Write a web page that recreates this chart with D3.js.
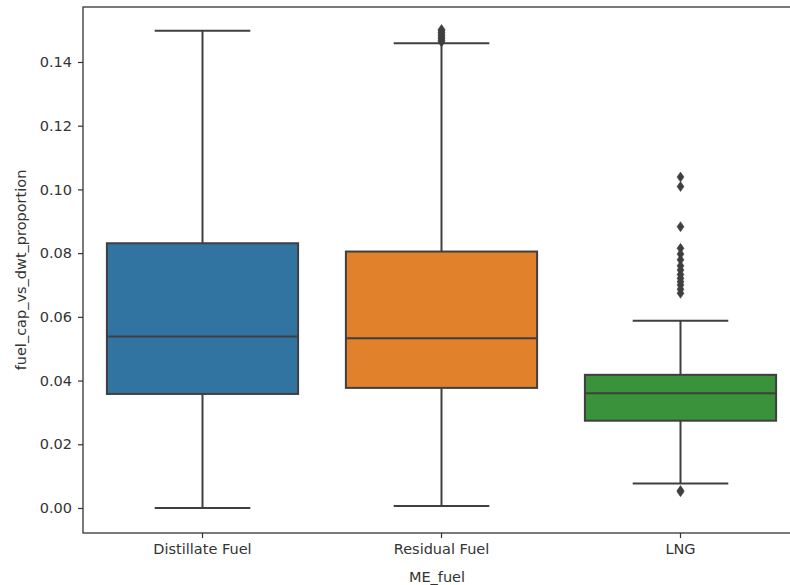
<!DOCTYPE html>
<html>
<head>
<meta charset="utf-8">
<script src="https://cdn.jsdelivr.net/npm/d3@7"></script>
<style>
  html, body { margin: 0; padding: 0; background: #fff; }
  svg { display: block; }
</style>
</head>
<body>
<svg id="chart" width="790" height="585"></svg>
<script>
// ---- data ----
const categories = ["Distillate Fuel", "Residual Fuel", "LNG"];
const colors = ["#3274a1", "#e1812c", "#3a923a"];
const whiskerLow = [0.0000, 0.0006, 0.0077];
const q1 = [0.0358, 0.0377, 0.0274];
const median = [0.0538, 0.0533, 0.0360];
const q3 = [0.0831, 0.0805, 0.0418];
const whiskerHigh = [0.1498, 0.1459, 0.0588];
const outliers = [
  [],
  [0.1463, 0.1468, 0.1473, 0.1478, 0.1483, 0.1488, 0.1493, 0.1498, 0.1502],
  [0.1039, 0.1009, 0.0883, 0.0815, 0.0797, 0.0779, 0.0760, 0.0747, 0.0733, 0.0721, 0.0710, 0.0700, 0.0687, 0.0674, 0.0051, 0.0055]
];
const yTicks = [0.00, 0.02, 0.04, 0.06, 0.08, 0.10, 0.12, 0.14];
const xLabel = "ME_fuel";
const yLabel = "fuel_cap_vs_dwt_proportion";

// ---- layout ----
const mLeft = 83, mRight = 800, mTop = 7, mBottom = 533;
const svg = d3.select("#chart");
const font = "DejaVu Sans, sans-serif";
const lineColor = "#3f3f3f";

const x = d3.scaleBand().domain(categories).range([mLeft, mRight]).paddingInner(0).paddingOuter(0);
const y = d3.scaleLinear().domain([-0.00785, 0.15726]).range([mBottom, mTop]);

const bw = x.bandwidth() * 0.8;
const capW = bw * 0.5;

const g = svg.append("g");

categories.forEach((c, i) => {
  const cx = x(c) + x.bandwidth() / 2;
  g.append("line").attr("x1", cx).attr("x2", cx).attr("y1", y(q3[i])).attr("y2", y(whiskerHigh[i]))
    .attr("stroke", lineColor).attr("stroke-width", 2);
  g.append("line").attr("x1", cx).attr("x2", cx).attr("y1", y(q1[i])).attr("y2", y(whiskerLow[i]))
    .attr("stroke", lineColor).attr("stroke-width", 2);
  g.append("line").attr("x1", cx - capW / 2).attr("x2", cx + capW / 2).attr("y1", y(whiskerHigh[i])).attr("y2", y(whiskerHigh[i]))
    .attr("stroke", lineColor).attr("stroke-width", 2);
  g.append("line").attr("x1", cx - capW / 2).attr("x2", cx + capW / 2).attr("y1", y(whiskerLow[i])).attr("y2", y(whiskerLow[i]))
    .attr("stroke", lineColor).attr("stroke-width", 2);
  g.append("rect").attr("x", cx - bw / 2).attr("width", bw)
    .attr("y", y(q3[i])).attr("height", y(q1[i]) - y(q3[i]))
    .attr("fill", colors[i]).attr("stroke", lineColor).attr("stroke-width", 2);
  g.append("line").attr("x1", cx - bw / 2).attr("x2", cx + bw / 2).attr("y1", y(median[i])).attr("y2", y(median[i]))
    .attr("stroke", lineColor).attr("stroke-width", 2);
  outliers[i].forEach(v => {
    const py = y(v);
    g.append("path")
      .attr("d", `M${cx},${py - 5} L${cx + 3.5},${py} L${cx},${py + 5} L${cx - 3.5},${py} Z`)
      .attr("fill", lineColor).attr("stroke", lineColor).attr("stroke-width", 0.5);
  });
});

const yAxis = d3.axisLeft(y).tickValues(yTicks).tickFormat(d3.format(".2f")).tickSize(5).tickPadding(6);
const ya = svg.append("g").attr("transform", `translate(${mLeft},0)`).call(yAxis);
ya.select(".domain").remove();
ya.selectAll("line").attr("stroke", "#333").attr("stroke-width", 1.2);
ya.selectAll("text").attr("font-family", font).attr("font-size", 14.5).attr("fill", "#333");

const xAxis = d3.axisBottom(x).tickSize(5).tickPadding(6);
const xa = svg.append("g").attr("transform", `translate(0,${mBottom})`).call(xAxis);
xa.select(".domain").remove();
xa.selectAll("line").attr("stroke", "#333").attr("stroke-width", 1.2);
xa.selectAll("text").attr("font-family", font).attr("font-size", 14.5).attr("fill", "#333");

svg.append("rect").attr("x", mLeft).attr("y", mTop).attr("width", mRight - mLeft).attr("height", mBottom - mTop)
  .attr("fill", "none").attr("stroke", "#333").attr("stroke-width", 1.3);

svg.append("text").attr("x", 437).attr("y", 582).attr("text-anchor", "middle")
  .attr("font-family", font).attr("font-size", 14.5).attr("fill", "#333").text(xLabel);
svg.append("text").attr("transform", `translate(26,${(mTop + mBottom) / 2}) rotate(-90)`).attr("text-anchor", "middle")
  .attr("font-family", font).attr("font-size", 14.5).attr("fill", "#333").text(yLabel);
</script>
</body>
</html>
